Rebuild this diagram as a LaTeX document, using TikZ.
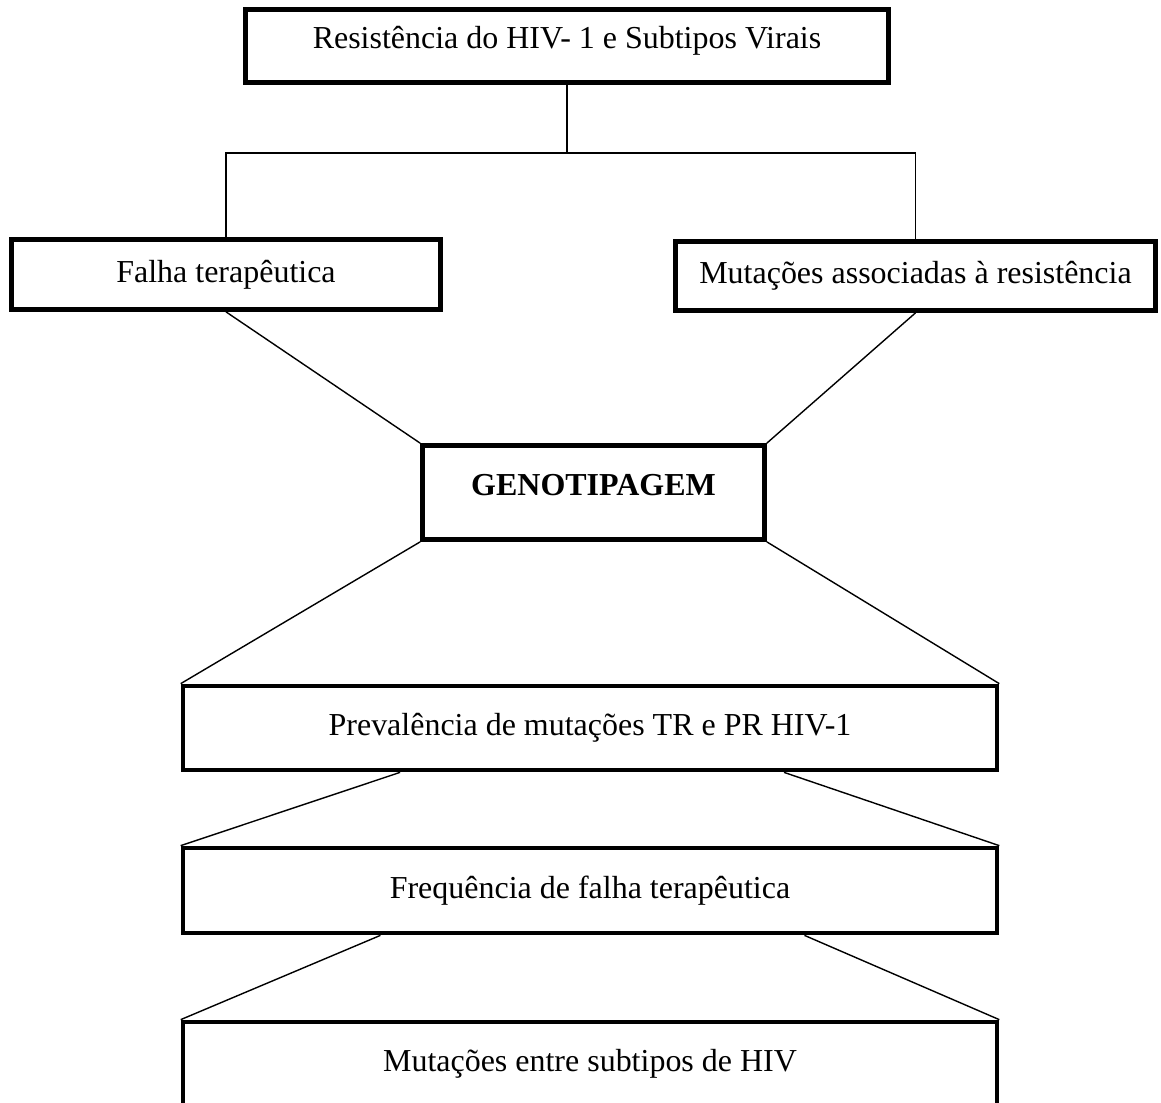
\documentclass[tikz,border=0pt]{standalone}
\usepackage{fontspec}
\setmainfont{Liberation Serif}
\usetikzlibrary{calc}
\tikzset{
  caixa/.style={draw, rectangle, line width=2.7pt, inner sep=0pt, align=center,
                font=\fontsize{18.2}{22}\selectfont},
  liga/.style={line width=0.8pt}
}

\begin{document}
\begin{tikzpicture}[x=0.02cm, y=-0.02cm]
    \useasboundingbox (0,0) rectangle (1161,1103);
    \node[caixa, minimum width=12.86cm, minimum height=1.46cm, text depth=0.36cm] (topo) at (567,46) {Resistência do HIV- 1 e Subtipos Virais};
    \node[caixa, minimum width=8.58cm, minimum height=1.40cm] (falha) at (226,274.5) {Falha terapêutica};
    \node[caixa, minimum width=9.60cm, minimum height=1.38cm] (mutres) at (915.5,276) {Mutações associadas à resistência};
    \node[caixa, minimum width=6.84cm, minimum height=1.88cm, text depth=0.3cm] (geno) at (593.5,492.5) {\textbf{GENOTIPAGEM}};
    \node[caixa, minimum width=16.28cm, minimum height=1.68cm] (prev) at (590,728) {Prevalência de mutações TR e PR HIV-1};
    \node[caixa, minimum width=16.28cm, minimum height=1.70cm] (freq) at (590,890.5) {Frequência de falha terapêutica};
    \node[caixa, minimum width=16.28cm, minimum height=1.68cm] (mutsub) at (590,1064) {Mutações entre subtipos de HIV};
    \coordinate (juncao) at (567,153);
    \draw[liga] (topo.south) -- (juncao);
    \draw[liga] (falha.north) |- (juncao) -| (mutres.north);
    \draw[liga] (falha.south) -- (geno.north west);
    \draw[liga] (mutres.south) -- (geno.north east);
    \draw[liga] (geno.south west) -- (prev.north west);
    \draw[liga] (geno.south east) -- (prev.north east);
    \draw[liga] ($(prev.south west)!0.268!(prev.south east)$) -- (freq.north west);
    \draw[liga] ($(prev.south west)!0.737!(prev.south east)$) -- (freq.north east);
    \draw[liga] ($(freq.south west)!0.244!(freq.south east)$) -- (mutsub.north west);
    \draw[liga] ($(freq.south west)!0.762!(freq.south east)$) -- (mutsub.north east);
\end{tikzpicture}
\end{document}
